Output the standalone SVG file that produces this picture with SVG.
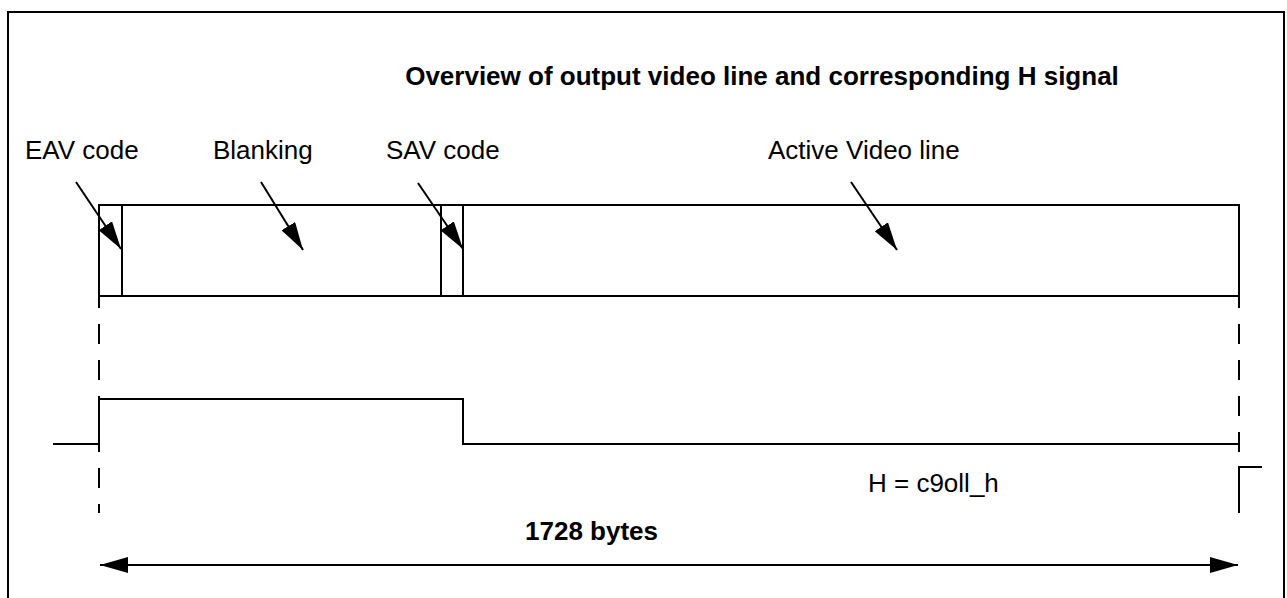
<svg xmlns="http://www.w3.org/2000/svg" width="1287" height="598" viewBox="0 0 1287 598">
<style>
.ln{fill:none;stroke:#000;stroke-width:2}
.dash{fill:none;stroke:#000;stroke-width:2;stroke-dasharray:20 16}
.t{font-family:"Liberation Sans",Arial,sans-serif;font-size:26px;fill:#000}
.b{font-weight:bold}
</style>
<defs>
<marker id="arr" markerWidth="30" markerHeight="16" refX="28" refY="8" orient="auto" markerUnits="userSpaceOnUse">
<path d="M0,0 L28,8 L0,16 Z" fill="#000"/>
</marker>
<marker id="arrS" markerWidth="30" markerHeight="16" refX="2" refY="8" orient="auto" markerUnits="userSpaceOnUse">
<path d="M30,0 L2,8 L30,16 Z" fill="#000"/>
</marker>
</defs>
<rect x="8" y="12" width="1276" height="600" class="ln" stroke-width="3"/>
<text class="t b" x="762" y="85" text-anchor="middle" font-size="23.8">Overview of output video line and corresponding H signal</text>
<g id="labels">
<text class="t" x="25" y="159">EAV code</text>
<text class="t" x="213" y="159">Blanking</text>
<text class="t" x="386" y="159">SAV code</text>
<text class="t" x="768" y="159">Active Video line</text>
<text class="t" x="868" y="492">H = c9oll_h</text>
<text class="t b" x="525" y="540" font-size="25">1728 bytes</text>
</g>
<g id="videoLine">
<rect x="99" y="205" width="1140" height="91" class="ln"/>
<line x1="122" y1="205" x2="122" y2="296" class="ln"/>
<line x1="441" y1="205" x2="441" y2="296" class="ln"/>
<line x1="463" y1="205" x2="463" y2="296" class="ln"/>
</g>
<g id="hSignal">
<polyline points="53,444 99,444 99,399 463,399 463,444 1239,444" class="ln"/>
<polyline points="1239,513 1239,467 1262,467" class="ln"/>
</g>
<g id="connectors">
<line x1="99" y1="288" x2="99" y2="513" class="dash"/>
<line x1="1239" y1="288" x2="1239" y2="513" class="dash"/>
<line x1="76" y1="182" x2="121" y2="249" class="ln" stroke-width="1.5" marker-end="url(#arr)"/>
<line x1="261" y1="182" x2="303" y2="250" class="ln" stroke-width="1.5" marker-end="url(#arr)"/>
<line x1="418" y1="183" x2="463" y2="249" class="ln" stroke-width="1.5" marker-end="url(#arr)"/>
<line x1="851" y1="182" x2="897" y2="250" class="ln" stroke-width="1.5" marker-end="url(#arr)"/>
<line x1="100" y1="565" x2="1238" y2="565" class="ln" marker-start="url(#arrS)" marker-end="url(#arr)"/>
</g>
</svg>
